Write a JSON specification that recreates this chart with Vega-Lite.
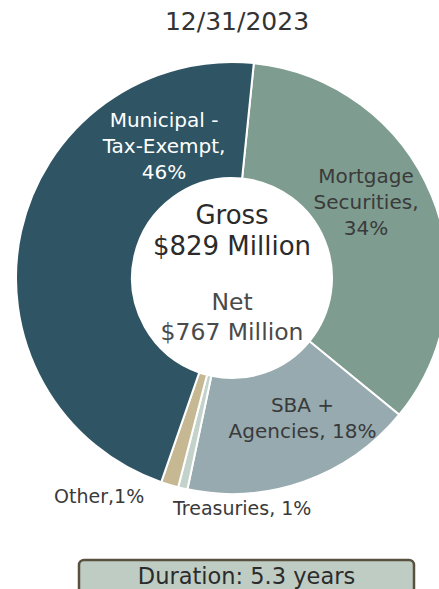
{
  "$schema": "https://vega.github.io/schema/vega-lite/v6.json",
  "padding": {"left": 0, "top": 10, "right": 0, "bottom": 0},
  "spacing": 39,
  "config": {
    "view": {"stroke": null},
    "font": "DejaVu Sans",
    "title": {"fontSize": 25, "fontWeight": "normal", "color": "#333333", "anchor": "middle", "offset": 10}
  },
  "datasets": {
    "slices": [
      {"category": "Mortgage Securities", "value": 34.3, "order": 1, "label": ["Mortgage", "Securities,", "34%"]},
      {"category": "SBA + Agencies", "value": 17.4, "order": 2, "label": ["SBA +", "Agencies, 18%"]},
      {"category": "Treasuries", "value": 0.7, "order": 3, "label": ["Treasuries, 1%"]},
      {"category": "Other", "value": 1.3, "order": 4, "label": ["Other,1%"]},
      {"category": "Municipal - Tax-Exempt", "value": 46.3, "order": 5, "label": ["Municipal -", "Tax-Exempt,", "46%"]}
    ],
    "gross": [{"text": ["Gross", "$829 Million"]}],
    "net": [{"text": ["Net", "$767 Million"]}],
    "duration": [{"text": "Duration: 5.3 years"}]
  },
  "vconcat": [
    {
      "title": {"text": "12/31/2023", "dx": 5},
      "width": 464,
      "height": 466,
      "data": {"name": "slices"},
      "encoding": {
        "theta": {"field": "value", "type": "quantitative", "stack": true, "scale": {"range": [0.1012, 6.3844]}},
        "order": {"field": "order", "type": "quantitative"}
      },
      "layer": [
        {
          "mark": {"type": "arc", "outerRadius": 216, "innerRadius": 100, "stroke": "#ffffff", "strokeWidth": 2},
          "encoding": {
            "color": {
              "field": "category", "type": "nominal", "legend": null,
              "scale": {
                "domain": ["Mortgage Securities", "SBA + Agencies", "Treasuries", "Other", "Municipal - Tax-Exempt"],
                "range": ["#7E9C8F", "#96AAB0", "#C3D3CB", "#C6B893", "#2F5564"]
              }
            }
          }
        },
        {
          "mark": {"type": "text", "radius": 150, "dx": -4.6, "dy": -43.7, "fontSize": 20, "lineHeight": 26, "color": "#3a3a3a", "baseline": "middle", "align": "center"},
          "encoding": {"text": {"condition": {"test": "datum.category === 'Mortgage Securities'", "field": "label"}, "value": ""}}
        },
        {
          "mark": {"type": "text", "radius": 150, "dx": 20.7, "dy": -13.5, "fontSize": 20, "lineHeight": 26, "color": "#3a3a3a", "baseline": "middle", "align": "center"},
          "encoding": {"text": {"condition": {"test": "datum.category === 'SBA + Agencies'", "field": "label"}, "value": ""}}
        },
        {
          "mark": {"type": "text", "radius": 150, "dx": 78.5, "dy": -125, "fontSize": 20, "lineHeight": 26, "color": "#ffffff", "baseline": "middle", "align": "center"},
          "encoding": {"text": {"condition": {"test": "datum.category === 'Municipal - Tax-Exempt'", "field": "label"}, "value": ""}}
        },
        {
          "mark": {"type": "text", "radius": 200, "dx": -13.4, "dy": 36, "fontSize": 19, "color": "#3a3a3a", "baseline": "middle", "align": "left"},
          "encoding": {"text": {"condition": {"test": "datum.category === 'Treasuries'", "field": "label"}, "value": ""}}
        },
        {
          "mark": {"type": "text", "radius": 200, "dx": -30, "dy": 28, "fontSize": 19, "color": "#3a3a3a", "baseline": "middle", "align": "right"},
          "encoding": {"text": {"condition": {"test": "datum.category === 'Other'", "field": "label"}, "value": ""}}
        },
        {
          "data": {"name": "gross"},
          "mark": {"type": "text", "dy": -62, "fontSize": 26, "lineHeight": 31, "color": "#2b2b2b", "baseline": "middle", "align": "center"},
          "encoding": {"text": {"field": "text"}, "theta": null, "order": null}
        },
        {
          "data": {"name": "net"},
          "mark": {"type": "text", "dy": 25, "fontSize": 23.5, "lineHeight": 30, "color": "#4a4a4a", "baseline": "middle", "align": "center"},
          "encoding": {"text": {"field": "text"}, "theta": null, "order": null}
        }
      ]
    },
    {
      "spacing": 0,
      "hconcat": [
        {
          "width": 77,
          "height": 34,
          "data": {"values": [{}]},
          "mark": {"type": "text"},
          "encoding": {}
        },
        {
          "width": 335,
          "height": 34,
          "view": {"fill": "#BFCCC4", "stroke": "#5A5040", "strokeWidth": 2.5, "cornerRadius": 5},
          "data": {"name": "duration"},
          "mark": {"type": "text", "fontSize": 22.5, "color": "#2b2b2b", "baseline": "middle", "align": "center"},
          "encoding": {"text": {"field": "text"}}
        }
      ]
    }
  ]
}
